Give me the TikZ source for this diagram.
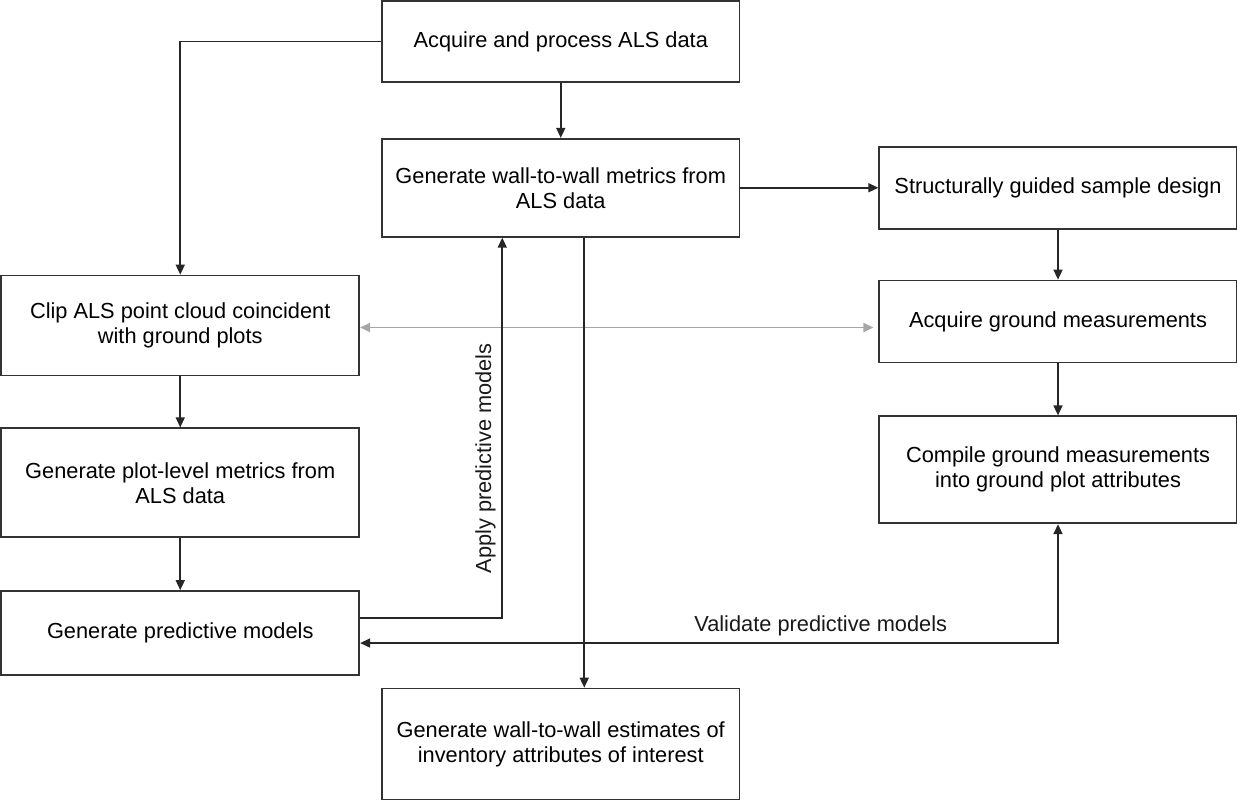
\documentclass[tikz,border=0pt]{standalone}
\usepackage{fontspec}
\setmainfont{Liberation Sans}
\usepackage{tikz}
\usetikzlibrary{arrows.meta, positioning}

\begin{document}
\begin{tikzpicture}[
    stepbox/.style={rectangle, draw=black!80, line width=1pt,
      minimum width=7.15cm, minimum height=1.64cm,
      inner sep=0pt, align=center,
      font=\fontsize{12.4pt}{14.2pt}\selectfont},
    arrow/.style={-{Triangle[length=2mm, width=1.8mm]},
      line width=0.9pt, black!85},
    twoway/.style={{Triangle[length=2mm, width=1.8mm]}-{Triangle[length=2mm, width=1.8mm]},
      line width=0.9pt, black!85},
    link/.style={{Triangle[length=2mm, width=1.8mm]}-{Triangle[length=2mm, width=1.8mm]},
      line width=1.1pt, black!35},
    flowlabel/.style={font=\fontsize{12.4pt}{14.2pt}\selectfont, text=black!90},
]
\useasboundingbox (0,0) rectangle (24.74,-15.98);

% ── Middle column ──
\node[stepbox, minimum height=1.62cm] (acq) at (11.215,-0.83)
  {Acquire and process ALS data};
\node[stepbox, minimum height=1.96cm, below=1.1cm of acq] (wall)
  {Generate wall-to-wall metrics from\\ALS data};
\node[stepbox, minimum height=2.22cm, below=9.0cm of wall] (est)
  {Generate wall-to-wall estimates of\\inventory attributes of interest};

% ── Ground column ──
\node[stepbox, right=2.76cm of wall] (design)
  {Structurally guided sample design};
\node[stepbox, below=1.0cm of design] (ground)
  {Acquire ground measurements};
\node[stepbox, minimum height=2.14cm, below=1.04cm of ground] (compile)
  {Compile ground measurements\\into ground plot attributes};

% ── Plot column ──
\node[stepbox, minimum width=7.16cm, minimum height=2.0cm,
  below left=0.74cm and 0.42cm of wall] (clip)
  {Clip ALS point cloud coincident\\with ground plots};
\node[stepbox, minimum width=7.16cm, minimum height=2.18cm,
  below=1.02cm of clip] (plot)
  {Generate plot-level metrics from\\ALS data};
\node[stepbox, minimum width=7.16cm, minimum height=1.68cm,
  below=1.04cm of plot] (models)
  {Generate predictive models};

% ── Arrows ──
\draw[arrow] (acq) -- (wall);
\draw[arrow] (acq.west) -| (clip.north);
\draw[arrow] (wall) -- (design);
\draw[arrow] (design) -- (ground);
\draw[arrow] (ground) -- (compile);
\draw[arrow] (clip) -- (plot);
\draw[arrow] (plot) -- (models);
\draw[link, shorten >=0.1cm] ([yshift=-0.04cm]clip.east)
  -- ([yshift=-0.04cm]clip.east -| ground.west);
\draw[arrow] ([yshift=0.3cm]models.east) -| node[pos=0.71, above, rotate=90,
  flowlabel] {Apply predictive models} ([xshift=-1.17cm]wall.south);
\draw[arrow] ([xshift=0.47cm]wall.south) -- ([xshift=0.47cm]est.north);
\draw[twoway] (compile.south) |- node[pos=0.67, above, flowlabel]
  {Validate predictive models} ([yshift=-0.2cm]models.east);

\end{tikzpicture}
\end{document}
